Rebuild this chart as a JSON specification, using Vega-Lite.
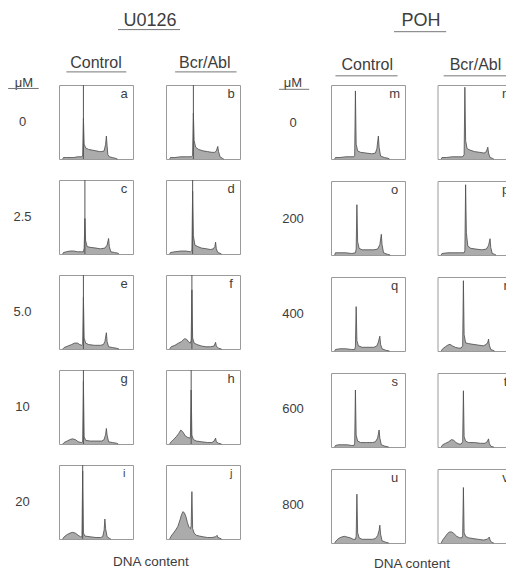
{
  "$schema": "https://vega.github.io/schema/vega-lite/v6.json",
  "padding": 0,
  "spacing": 29.5,
  "config": {
    "view": {"stroke": "#9a9a9a", "strokeWidth": 1},
    "text": {"font": "Liberation Sans", "color": "#3d3d3d"},
    "area": {"color": "#878787", "line": {"color": "#4a4a4a", "strokeWidth": 0.8}},
    "rule": {"color": "#555", "strokeWidth": 1},
    "concat": {"spacing": 0}
  },
  "datasets": {
    "u0126": [
      {"p":"a","c":5,"n":0},{"p":"a","c":6,"n":2},{"p":"a","c":10,"n":2},{"p":"a","c":15,"n":2},{"p":"a","c":20,"n":2},{"p":"a","c":25,"n":3},{"p":"a","c":30,"n":3},{"p":"a","c":32,"n":4},{"p":"a","c":33,"n":55},{"p":"a","c":34,"n":20},{"p":"a","c":36,"n":15},{"p":"a","c":40,"n":13},{"p":"a","c":45,"n":12},{"p":"a","c":50,"n":11},{"p":"a","c":55,"n":10},{"p":"a","c":58,"n":10},{"p":"a","c":61,"n":11},{"p":"a","c":63,"n":20},{"p":"a","c":64,"n":31},{"p":"a","c":65,"n":18},{"p":"a","c":66,"n":6},{"p":"a","c":68,"n":3},{"p":"a","c":72,"n":2},{"p":"a","c":76,"n":1},{"p":"a","c":79,"n":0},
      {"p":"b","c":5,"n":0},{"p":"b","c":6,"n":2},{"p":"b","c":12,"n":2},{"p":"b","c":20,"n":3},{"p":"b","c":28,"n":3},{"p":"b","c":34,"n":3},{"p":"b","c":36,"n":5},{"p":"b","c":37,"n":62},{"p":"b","c":38,"n":25},{"p":"b","c":40,"n":16},{"p":"b","c":44,"n":13},{"p":"b","c":50,"n":11},{"p":"b","c":56,"n":10},{"p":"b","c":62,"n":9},{"p":"b","c":66,"n":9},{"p":"b","c":68,"n":11},{"p":"b","c":70,"n":17},{"p":"b","c":71,"n":10},{"p":"b","c":73,"n":3},{"p":"b","c":76,"n":1},{"p":"b","c":78,"n":0},
      {"p":"c","c":5,"n":0},{"p":"c","c":6,"n":2},{"p":"c","c":10,"n":3},{"p":"c","c":15,"n":4},{"p":"c","c":20,"n":4},{"p":"c","c":25,"n":3},{"p":"c","c":30,"n":3},{"p":"c","c":33,"n":3},{"p":"c","c":34,"n":8},{"p":"c","c":35,"n":48},{"p":"c","c":36,"n":18},{"p":"c","c":38,"n":10},{"p":"c","c":42,"n":9},{"p":"c","c":50,"n":8},{"p":"c","c":56,"n":7},{"p":"c","c":62,"n":8},{"p":"c","c":65,"n":12},{"p":"c","c":67,"n":21},{"p":"c","c":68,"n":10},{"p":"c","c":70,"n":3},{"p":"c","c":75,"n":2},{"p":"c","c":80,"n":1},{"p":"c","c":81,"n":0},
      {"p":"d","c":5,"n":0},{"p":"d","c":6,"n":2},{"p":"d","c":12,"n":3},{"p":"d","c":20,"n":4},{"p":"d","c":27,"n":4},{"p":"d","c":33,"n":3},{"p":"d","c":35,"n":5},{"p":"d","c":36,"n":85},{"p":"d","c":37,"n":25},{"p":"d","c":39,"n":12},{"p":"d","c":43,"n":10},{"p":"d","c":48,"n":8},{"p":"d","c":55,"n":7},{"p":"d","c":60,"n":6},{"p":"d","c":64,"n":7},{"p":"d","c":66,"n":10},{"p":"d","c":67,"n":16},{"p":"d","c":68,"n":7},{"p":"d","c":70,"n":2},{"p":"d","c":73,"n":1},{"p":"d","c":75,"n":0},
      {"p":"e","c":5,"n":0},{"p":"e","c":7,"n":2},{"p":"e","c":12,"n":4},{"p":"e","c":17,"n":6},{"p":"e","c":21,"n":8},{"p":"e","c":25,"n":8},{"p":"e","c":28,"n":6},{"p":"e","c":31,"n":5},{"p":"e","c":32,"n":6},{"p":"e","c":33,"n":70},{"p":"e","c":34,"n":15},{"p":"e","c":36,"n":8},{"p":"e","c":40,"n":6},{"p":"e","c":48,"n":5},{"p":"e","c":56,"n":5},{"p":"e","c":60,"n":6},{"p":"e","c":62,"n":10},{"p":"e","c":64,"n":22},{"p":"e","c":65,"n":10},{"p":"e","c":67,"n":3},{"p":"e","c":72,"n":2},{"p":"e","c":78,"n":1},{"p":"e","c":81,"n":0},
      {"p":"f","c":5,"n":0},{"p":"f","c":7,"n":3},{"p":"f","c":12,"n":5},{"p":"f","c":17,"n":8},{"p":"f","c":21,"n":10},{"p":"f","c":25,"n":14},{"p":"f","c":28,"n":13},{"p":"f","c":31,"n":9},{"p":"f","c":33,"n":8},{"p":"f","c":34,"n":12},{"p":"f","c":35,"n":80},{"p":"f","c":36,"n":15},{"p":"f","c":38,"n":8},{"p":"f","c":42,"n":6},{"p":"f","c":48,"n":4},{"p":"f","c":54,"n":3},{"p":"f","c":60,"n":3},{"p":"f","c":65,"n":4},{"p":"f","c":67,"n":9},{"p":"f","c":68,"n":4},{"p":"f","c":71,"n":1},{"p":"f","c":75,"n":0},
      {"p":"g","c":5,"n":0},{"p":"g","c":7,"n":2},{"p":"g","c":11,"n":4},{"p":"g","c":15,"n":6},{"p":"g","c":18,"n":7},{"p":"g","c":22,"n":6},{"p":"g","c":26,"n":3},{"p":"g","c":30,"n":2},{"p":"g","c":32,"n":3},{"p":"g","c":33,"n":85},{"p":"g","c":34,"n":10},{"p":"g","c":36,"n":5},{"p":"g","c":42,"n":4},{"p":"g","c":50,"n":4},{"p":"g","c":58,"n":4},{"p":"g","c":61,"n":6},{"p":"g","c":63,"n":13},{"p":"g","c":64,"n":21},{"p":"g","c":65,"n":12},{"p":"g","c":67,"n":3},{"p":"g","c":72,"n":2},{"p":"g","c":78,"n":1},{"p":"g","c":80,"n":0},
      {"p":"h","c":5,"n":0},{"p":"h","c":7,"n":3},{"p":"h","c":10,"n":6},{"p":"h","c":14,"n":10},{"p":"h","c":17,"n":14},{"p":"h","c":20,"n":19},{"p":"h","c":23,"n":16},{"p":"h","c":26,"n":11},{"p":"h","c":29,"n":9},{"p":"h","c":32,"n":8},{"p":"h","c":33,"n":10},{"p":"h","c":34,"n":73},{"p":"h","c":35,"n":12},{"p":"h","c":37,"n":6},{"p":"h","c":41,"n":4},{"p":"h","c":48,"n":3},{"p":"h","c":56,"n":2},{"p":"h","c":62,"n":2},{"p":"h","c":65,"n":4},{"p":"h","c":67,"n":8},{"p":"h","c":68,"n":3},{"p":"h","c":71,"n":1},{"p":"h","c":75,"n":0},
      {"p":"i","c":5,"n":0},{"p":"i","c":7,"n":3},{"p":"i","c":11,"n":6},{"p":"i","c":15,"n":8},{"p":"i","c":18,"n":9},{"p":"i","c":22,"n":8},{"p":"i","c":26,"n":5},{"p":"i","c":29,"n":3},{"p":"i","c":31,"n":3},{"p":"i","c":32,"n":92},{"p":"i","c":33,"n":8},{"p":"i","c":35,"n":4},{"p":"i","c":42,"n":3},{"p":"i","c":50,"n":2},{"p":"i","c":56,"n":2},{"p":"i","c":59,"n":3},{"p":"i","c":61,"n":12},{"p":"i","c":62,"n":27},{"p":"i","c":63,"n":14},{"p":"i","c":65,"n":3},{"p":"i","c":68,"n":1},{"p":"i","c":70,"n":0},
      {"p":"j","c":5,"n":0},{"p":"j","c":7,"n":4},{"p":"j","c":10,"n":8},{"p":"j","c":13,"n":12},{"p":"j","c":16,"n":17},{"p":"j","c":19,"n":26},{"p":"j","c":21,"n":33},{"p":"j","c":23,"n":37},{"p":"j","c":25,"n":35},{"p":"j","c":27,"n":30},{"p":"j","c":29,"n":22},{"p":"j","c":31,"n":16},{"p":"j","c":33,"n":14},{"p":"j","c":34,"n":18},{"p":"j","c":35,"n":64},{"p":"j","c":36,"n":14},{"p":"j","c":38,"n":8},{"p":"j","c":41,"n":5},{"p":"j","c":45,"n":4},{"p":"j","c":50,"n":3},{"p":"j","c":56,"n":2},{"p":"j","c":62,"n":2},{"p":"j","c":67,"n":3},{"p":"j","c":69,"n":5},{"p":"j","c":70,"n":2},{"p":"j","c":73,"n":1},{"p":"j","c":75,"n":0},
      {"p":"a","mk":33},{"p":"b","mk":37},{"p":"c","mk":35},{"p":"d","mk":36},{"p":"e","mk":33},{"p":"f","mk":35},{"p":"g","mk":33},{"p":"h","mk":34},{"p":"i","mk":32}
    ],
    "poh": [
      {"p":"m","c":5,"n":0},{"p":"m","c":6,"n":2},{"p":"m","c":12,"n":2},{"p":"m","c":20,"n":3},{"p":"m","c":27,"n":3},{"p":"m","c":31,"n":3},{"p":"m","c":32,"n":5},{"p":"m","c":33,"n":92},{"p":"m","c":34,"n":20},{"p":"m","c":36,"n":11},{"p":"m","c":40,"n":9},{"p":"m","c":48,"n":8},{"p":"m","c":55,"n":7},{"p":"m","c":60,"n":8},{"p":"m","c":62,"n":14},{"p":"m","c":64,"n":31},{"p":"m","c":65,"n":16},{"p":"m","c":67,"n":4},{"p":"m","c":72,"n":2},{"p":"m","c":77,"n":1},{"p":"m","c":79,"n":0},
      {"p":"n","c":5,"n":0},{"p":"n","c":6,"n":2},{"p":"n","c":12,"n":2},{"p":"n","c":20,"n":3},{"p":"n","c":28,"n":3},{"p":"n","c":34,"n":3},{"p":"n","c":36,"n":6},{"p":"n","c":37,"n":97},{"p":"n","c":38,"n":25},{"p":"n","c":40,"n":14},{"p":"n","c":44,"n":12},{"p":"n","c":50,"n":10},{"p":"n","c":57,"n":9},{"p":"n","c":63,"n":8},{"p":"n","c":66,"n":10},{"p":"n","c":68,"n":16},{"p":"n","c":69,"n":8},{"p":"n","c":71,"n":2},{"p":"n","c":74,"n":1},{"p":"n","c":76,"n":0},
      {"p":"o","c":5,"n":0},{"p":"o","c":6,"n":3},{"p":"o","c":12,"n":3},{"p":"o","c":20,"n":3},{"p":"o","c":28,"n":2},{"p":"o","c":33,"n":3},{"p":"o","c":34,"n":8},{"p":"o","c":35,"n":68},{"p":"o","c":36,"n":18},{"p":"o","c":38,"n":9},{"p":"o","c":42,"n":7},{"p":"o","c":50,"n":7},{"p":"o","c":58,"n":7},{"p":"o","c":63,"n":8},{"p":"o","c":66,"n":14},{"p":"o","c":68,"n":28},{"p":"o","c":69,"n":14},{"p":"o","c":71,"n":3},{"p":"o","c":76,"n":1},{"p":"o","c":80,"n":0},
      {"p":"p","c":5,"n":0},{"p":"p","c":6,"n":2},{"p":"p","c":14,"n":3},{"p":"p","c":22,"n":3},{"p":"p","c":30,"n":3},{"p":"p","c":36,"n":3},{"p":"p","c":37,"n":6},{"p":"p","c":38,"n":95},{"p":"p","c":39,"n":30},{"p":"p","c":41,"n":12},{"p":"p","c":45,"n":9},{"p":"p","c":52,"n":8},{"p":"p","c":60,"n":7},{"p":"p","c":66,"n":8},{"p":"p","c":69,"n":13},{"p":"p","c":71,"n":22},{"p":"p","c":72,"n":10},{"p":"p","c":74,"n":2},{"p":"p","c":77,"n":1},{"p":"p","c":79,"n":0},
      {"p":"q","c":5,"n":0},{"p":"q","c":6,"n":2},{"p":"q","c":12,"n":3},{"p":"q","c":20,"n":3},{"p":"q","c":28,"n":2},{"p":"q","c":32,"n":2},{"p":"q","c":33,"n":6},{"p":"q","c":34,"n":60},{"p":"q","c":35,"n":14},{"p":"q","c":37,"n":7},{"p":"q","c":42,"n":5},{"p":"q","c":50,"n":5},{"p":"q","c":58,"n":5},{"p":"q","c":62,"n":7},{"p":"q","c":64,"n":12},{"p":"q","c":66,"n":20},{"p":"q","c":67,"n":9},{"p":"q","c":69,"n":3},{"p":"q","c":74,"n":1},{"p":"q","c":79,"n":0},
      {"p":"r","c":5,"n":0},{"p":"r","c":7,"n":3},{"p":"r","c":11,"n":6},{"p":"r","c":14,"n":8},{"p":"r","c":17,"n":9},{"p":"r","c":20,"n":7},{"p":"r","c":24,"n":5},{"p":"r","c":28,"n":4},{"p":"r","c":32,"n":4},{"p":"r","c":34,"n":7},{"p":"r","c":35,"n":95},{"p":"r","c":36,"n":22},{"p":"r","c":38,"n":11},{"p":"r","c":42,"n":10},{"p":"r","c":48,"n":9},{"p":"r","c":55,"n":8},{"p":"r","c":62,"n":7},{"p":"r","c":66,"n":9},{"p":"r","c":68,"n":12},{"p":"r","c":69,"n":16},{"p":"r","c":70,"n":8},{"p":"r","c":72,"n":2},{"p":"r","c":75,"n":1},{"p":"r","c":77,"n":0},
      {"p":"s","c":5,"n":0},{"p":"s","c":6,"n":2},{"p":"s","c":10,"n":3},{"p":"s","c":16,"n":3},{"p":"s","c":22,"n":3},{"p":"s","c":28,"n":2},{"p":"s","c":31,"n":2},{"p":"s","c":32,"n":5},{"p":"s","c":33,"n":77},{"p":"s","c":34,"n":16},{"p":"s","c":36,"n":8},{"p":"s","c":40,"n":6},{"p":"s","c":48,"n":6},{"p":"s","c":56,"n":6},{"p":"s","c":60,"n":7},{"p":"s","c":63,"n":12},{"p":"s","c":65,"n":23},{"p":"s","c":66,"n":12},{"p":"s","c":68,"n":3},{"p":"s","c":73,"n":1},{"p":"s","c":78,"n":0},
      {"p":"t","c":5,"n":0},{"p":"t","c":7,"n":3},{"p":"t","c":11,"n":5},{"p":"t","c":15,"n":7},{"p":"t","c":19,"n":10},{"p":"t","c":22,"n":9},{"p":"t","c":25,"n":6},{"p":"t","c":29,"n":4},{"p":"t","c":32,"n":4},{"p":"t","c":34,"n":7},{"p":"t","c":35,"n":76},{"p":"t","c":36,"n":14},{"p":"t","c":38,"n":8},{"p":"t","c":42,"n":6},{"p":"t","c":50,"n":6},{"p":"t","c":58,"n":5},{"p":"t","c":64,"n":5},{"p":"t","c":67,"n":7},{"p":"t","c":69,"n":11},{"p":"t","c":70,"n":5},{"p":"t","c":72,"n":1},{"p":"t","c":76,"n":0},
      {"p":"u","c":5,"n":0},{"p":"u","c":7,"n":3},{"p":"u","c":10,"n":6},{"p":"u","c":14,"n":8},{"p":"u","c":18,"n":9},{"p":"u","c":22,"n":8},{"p":"u","c":26,"n":7},{"p":"u","c":30,"n":5},{"p":"u","c":33,"n":5},{"p":"u","c":34,"n":9},{"p":"u","c":35,"n":66},{"p":"u","c":36,"n":14},{"p":"u","c":38,"n":7},{"p":"u","c":42,"n":5},{"p":"u","c":50,"n":5},{"p":"u","c":56,"n":5},{"p":"u","c":60,"n":6},{"p":"u","c":63,"n":10},{"p":"u","c":65,"n":17},{"p":"u","c":66,"n":24},{"p":"u","c":67,"n":12},{"p":"u","c":69,"n":3},{"p":"u","c":74,"n":1},{"p":"u","c":78,"n":0},
      {"p":"v","c":5,"n":0},{"p":"v","c":7,"n":4},{"p":"v","c":10,"n":8},{"p":"v","c":13,"n":12},{"p":"v","c":16,"n":15},{"p":"v","c":19,"n":15},{"p":"v","c":22,"n":13},{"p":"v","c":26,"n":9},{"p":"v","c":30,"n":7},{"p":"v","c":33,"n":7},{"p":"v","c":34,"n":10},{"p":"v","c":35,"n":75},{"p":"v","c":36,"n":14},{"p":"v","c":38,"n":9},{"p":"v","c":42,"n":7},{"p":"v","c":48,"n":6},{"p":"v","c":55,"n":5},{"p":"v","c":62,"n":4},{"p":"v","c":67,"n":5},{"p":"v","c":70,"n":8},{"p":"v","c":71,"n":4},{"p":"v","c":73,"n":1},{"p":"v","c":76,"n":0}
    ]
  },
  "hconcat": [
    {
      "spacing": 13,
      "hconcat": [
        {
          "spacing": 0,
          "vconcat": [
            {
              "width": 45, "height": 91, "view": {"stroke": null},
              "data": {"values": [{"t": "μM"}]},
              "layer": [
                {"mark": {"type": "text", "fontSize": 13, "baseline": "middle", "align": "center"},
                 "encoding": {"text": {"field": "t"},
                   "x": {"datum": 0.53, "type": "quantitative", "scale": {"domain": [0, 1]}, "axis": null},
                   "y": {"datum": 0.0934, "type": "quantitative", "scale": {"domain": [0, 1]}, "axis": null}}},
                {"mark": {"type": "rule", "color": "#777"},
                 "encoding": {"x": {"datum": 0.18}, "x2": {"datum": 0.86}, "y": {"datum": 0.0275}}}
              ]
            },
            {
              "width": 45, "height": 442, "view": {"stroke": null},
              "data": {"values": [{"d": "0"}, {"d": "2.5"}, {"d": "5.0"}, {"d": "10"}, {"d": "20"}]},
              "mark": {"type": "text", "fontSize": 13, "baseline": "middle", "align": "center"},
              "encoding": {
                "text": {"field": "d"},
                "x": {"datum": 0.5, "type": "quantitative", "scale": {"domain": [0, 1]}, "axis": null},
                "y": {"field": "d", "type": "ordinal", "sort": null, "scale": {"type": "point", "padding": 0.3263}, "axis": null}
              }
            }
          ]
        },
        {
          "spacing": 0,
          "vconcat": [
            {
              "width": 182, "height": 40, "view": {"stroke": null},
              "data": {"values": [{"t": "U0126"}]},
              "layer": [
                {"mark": {"type": "text", "fontSize": 18, "baseline": "middle", "align": "center"},
                 "encoding": {"text": {"field": "t"},
                   "x": {"datum": 0.5, "type": "quantitative", "scale": {"domain": [0, 1]}, "axis": null},
                   "y": {"datum": 0.475, "type": "quantitative", "scale": {"domain": [0, 1]}, "axis": null}}},
                {"mark": {"type": "rule", "color": "#777"},
                 "encoding": {"x": {"datum": 0.324}, "x2": {"datum": 0.665}, "y": {"datum": 0.26}}}
              ]
            },
            {
              "spacing": 34,
              "hconcat": [
                {
                  "width": 74, "height": 44, "view": {"stroke": null},
                  "data": {"values": [{"t": "Control"}]},
                  "layer": [
                    {"mark": {"type": "text", "fontSize": 16, "baseline": "middle", "align": "center"},
                     "encoding": {"text": {"field": "t"},
                       "x": {"datum": 0.5, "type": "quantitative", "scale": {"domain": [0, 1]}, "axis": null},
                       "y": {"datum": 0.48, "type": "quantitative", "scale": {"domain": [0, 1]}, "axis": null}}},
                    {"mark": {"type": "rule", "color": "#777"},
                     "encoding": {"x": {"datum": 0.1}, "x2": {"datum": 0.91}, "y": {"datum": 0.275}}}
                  ]
                },
                {
                  "width": 74, "height": 44, "view": {"stroke": null},
                  "data": {"values": [{"t": "Bcr/Abl"}]},
                  "layer": [
                    {"mark": {"type": "text", "fontSize": 16, "baseline": "middle", "align": "center"},
                     "encoding": {"text": {"field": "t"},
                       "x": {"datum": 0.51, "type": "quantitative", "scale": {"domain": [0, 1]}, "axis": null},
                       "y": {"datum": 0.48, "type": "quantitative", "scale": {"domain": [0, 1]}, "axis": null}}},
                    {"mark": {"type": "rule", "color": "#777"},
                     "encoding": {"x": {"datum": 0.11}, "x2": {"datum": 0.94}, "y": {"datum": 0.275}}}
                  ]
                }
              ]
            },
            {
              "columns": 2,
              "spacing": {"row": 17, "column": 31},
              "concat": [
                {"data": {"name": "u0126"}, "transform": [{"filter": "datum.p === 'a'"}], "width": 74, "height": 74, "layer": [
                  {"transform": [{"filter": "isValid(datum.n)"}], "mark": "area", "encoding": {"x": {"field": "c", "type": "quantitative", "scale": {"domain": [0, 100]}, "axis": null}, "y": {"field": "n", "type": "quantitative", "scale": {"domain": [0, 100]}, "axis": null}}},
                  {"transform": [{"filter": "isValid(datum.mk)"}], "mark": "rule", "encoding": {"x": {"field": "mk", "type": "quantitative"}}},
                  {"transform": [{"aggregate": [{"op": "count", "as": "k"}], "groupby": ["p"]}], "mark": {"type": "text", "fontSize": 13, "baseline": "middle", "align": "center"}, "encoding": {"text": {"field": "p"}, "x": {"datum": 88}, "y": {"datum": 88}}}]},
                {"data": {"name": "u0126"}, "transform": [{"filter": "datum.p === 'b'"}], "width": 74, "height": 74, "layer": [
                  {"transform": [{"filter": "isValid(datum.n)"}], "mark": "area", "encoding": {"x": {"field": "c", "type": "quantitative", "scale": {"domain": [0, 100]}, "axis": null}, "y": {"field": "n", "type": "quantitative", "scale": {"domain": [0, 100]}, "axis": null}}},
                  {"transform": [{"filter": "isValid(datum.mk)"}], "mark": "rule", "encoding": {"x": {"field": "mk", "type": "quantitative"}}},
                  {"transform": [{"aggregate": [{"op": "count", "as": "k"}], "groupby": ["p"]}], "mark": {"type": "text", "fontSize": 13, "baseline": "middle", "align": "center"}, "encoding": {"text": {"field": "p"}, "x": {"datum": 88}, "y": {"datum": 88}}}]},
                {"data": {"name": "u0126"}, "transform": [{"filter": "datum.p === 'c'"}], "width": 74, "height": 74, "layer": [
                  {"transform": [{"filter": "isValid(datum.n)"}], "mark": "area", "encoding": {"x": {"field": "c", "type": "quantitative", "scale": {"domain": [0, 100]}, "axis": null}, "y": {"field": "n", "type": "quantitative", "scale": {"domain": [0, 100]}, "axis": null}}},
                  {"transform": [{"filter": "isValid(datum.mk)"}], "mark": "rule", "encoding": {"x": {"field": "mk", "type": "quantitative"}}},
                  {"transform": [{"aggregate": [{"op": "count", "as": "k"}], "groupby": ["p"]}], "mark": {"type": "text", "fontSize": 13, "baseline": "middle", "align": "center"}, "encoding": {"text": {"field": "p"}, "x": {"datum": 88}, "y": {"datum": 88}}}]},
                {"data": {"name": "u0126"}, "transform": [{"filter": "datum.p === 'd'"}], "width": 74, "height": 74, "layer": [
                  {"transform": [{"filter": "isValid(datum.n)"}], "mark": "area", "encoding": {"x": {"field": "c", "type": "quantitative", "scale": {"domain": [0, 100]}, "axis": null}, "y": {"field": "n", "type": "quantitative", "scale": {"domain": [0, 100]}, "axis": null}}},
                  {"transform": [{"filter": "isValid(datum.mk)"}], "mark": "rule", "encoding": {"x": {"field": "mk", "type": "quantitative"}}},
                  {"transform": [{"aggregate": [{"op": "count", "as": "k"}], "groupby": ["p"]}], "mark": {"type": "text", "fontSize": 13, "baseline": "middle", "align": "center"}, "encoding": {"text": {"field": "p"}, "x": {"datum": 88}, "y": {"datum": 88}}}]},
                {"data": {"name": "u0126"}, "transform": [{"filter": "datum.p === 'e'"}], "width": 74, "height": 74, "layer": [
                  {"transform": [{"filter": "isValid(datum.n)"}], "mark": "area", "encoding": {"x": {"field": "c", "type": "quantitative", "scale": {"domain": [0, 100]}, "axis": null}, "y": {"field": "n", "type": "quantitative", "scale": {"domain": [0, 100]}, "axis": null}}},
                  {"transform": [{"filter": "isValid(datum.mk)"}], "mark": "rule", "encoding": {"x": {"field": "mk", "type": "quantitative"}}},
                  {"transform": [{"aggregate": [{"op": "count", "as": "k"}], "groupby": ["p"]}], "mark": {"type": "text", "fontSize": 13, "baseline": "middle", "align": "center"}, "encoding": {"text": {"field": "p"}, "x": {"datum": 88}, "y": {"datum": 88}}}]},
                {"data": {"name": "u0126"}, "transform": [{"filter": "datum.p === 'f'"}], "width": 74, "height": 74, "layer": [
                  {"transform": [{"filter": "isValid(datum.n)"}], "mark": "area", "encoding": {"x": {"field": "c", "type": "quantitative", "scale": {"domain": [0, 100]}, "axis": null}, "y": {"field": "n", "type": "quantitative", "scale": {"domain": [0, 100]}, "axis": null}}},
                  {"transform": [{"filter": "isValid(datum.mk)"}], "mark": "rule", "encoding": {"x": {"field": "mk", "type": "quantitative"}}},
                  {"transform": [{"aggregate": [{"op": "count", "as": "k"}], "groupby": ["p"]}], "mark": {"type": "text", "fontSize": 13, "baseline": "middle", "align": "center"}, "encoding": {"text": {"field": "p"}, "x": {"datum": 88}, "y": {"datum": 88}}}]},
                {"data": {"name": "u0126"}, "transform": [{"filter": "datum.p === 'g'"}], "width": 74, "height": 74, "layer": [
                  {"transform": [{"filter": "isValid(datum.n)"}], "mark": "area", "encoding": {"x": {"field": "c", "type": "quantitative", "scale": {"domain": [0, 100]}, "axis": null}, "y": {"field": "n", "type": "quantitative", "scale": {"domain": [0, 100]}, "axis": null}}},
                  {"transform": [{"filter": "isValid(datum.mk)"}], "mark": "rule", "encoding": {"x": {"field": "mk", "type": "quantitative"}}},
                  {"transform": [{"aggregate": [{"op": "count", "as": "k"}], "groupby": ["p"]}], "mark": {"type": "text", "fontSize": 13, "baseline": "middle", "align": "center"}, "encoding": {"text": {"field": "p"}, "x": {"datum": 88}, "y": {"datum": 88}}}]},
                {"data": {"name": "u0126"}, "transform": [{"filter": "datum.p === 'h'"}], "width": 74, "height": 74, "layer": [
                  {"transform": [{"filter": "isValid(datum.n)"}], "mark": "area", "encoding": {"x": {"field": "c", "type": "quantitative", "scale": {"domain": [0, 100]}, "axis": null}, "y": {"field": "n", "type": "quantitative", "scale": {"domain": [0, 100]}, "axis": null}}},
                  {"transform": [{"filter": "isValid(datum.mk)"}], "mark": "rule", "encoding": {"x": {"field": "mk", "type": "quantitative"}}},
                  {"transform": [{"aggregate": [{"op": "count", "as": "k"}], "groupby": ["p"]}], "mark": {"type": "text", "fontSize": 13, "baseline": "middle", "align": "center"}, "encoding": {"text": {"field": "p"}, "x": {"datum": 88}, "y": {"datum": 88}}}]},
                {"data": {"name": "u0126"}, "transform": [{"filter": "datum.p === 'i'"}], "width": 74, "height": 74, "layer": [
                  {"transform": [{"filter": "isValid(datum.n)"}], "mark": "area", "encoding": {"x": {"field": "c", "type": "quantitative", "scale": {"domain": [0, 100]}, "axis": null}, "y": {"field": "n", "type": "quantitative", "scale": {"domain": [0, 100]}, "axis": null}}},
                  {"transform": [{"filter": "isValid(datum.mk)"}], "mark": "rule", "encoding": {"x": {"field": "mk", "type": "quantitative"}}},
                  {"transform": [{"aggregate": [{"op": "count", "as": "k"}], "groupby": ["p"]}], "mark": {"type": "text", "fontSize": 11, "baseline": "middle", "align": "center"}, "encoding": {"text": {"field": "p"}, "x": {"datum": 88}, "y": {"datum": 88}}}]},
                {"data": {"name": "u0126"}, "transform": [{"filter": "datum.p === 'j'"}], "width": 74, "height": 74, "layer": [
                  {"transform": [{"filter": "isValid(datum.n)"}], "mark": "area", "encoding": {"x": {"field": "c", "type": "quantitative", "scale": {"domain": [0, 100]}, "axis": null}, "y": {"field": "n", "type": "quantitative", "scale": {"domain": [0, 100]}, "axis": null}}},
                  {"transform": [{"aggregate": [{"op": "count", "as": "k"}], "groupby": ["p"]}], "mark": {"type": "text", "fontSize": 11, "baseline": "middle", "align": "center"}, "encoding": {"text": {"field": "p"}, "x": {"datum": 88}, "y": {"datum": 88}}}]}
              ]
            },
            {
              "width": 182, "height": 30, "view": {"stroke": null},
              "data": {"values": [{"t": "DNA content"}]},
              "mark": {"type": "text", "fontSize": 13.5, "baseline": "middle", "align": "center"},
              "encoding": {"text": {"field": "t"},
                "x": {"datum": 0.505, "type": "quantitative", "scale": {"domain": [0, 1]}, "axis": null},
                "y": {"datum": 0.317, "type": "quantitative", "scale": {"domain": [0, 1]}, "axis": null}}
            }
          ]
        }
      ]
    },
    {
      "spacing": 14.5,
      "hconcat": [
        {
          "spacing": 0,
          "vconcat": [
            {
              "width": 45, "height": 91, "view": {"stroke": null},
              "data": {"values": [{"t": "μM"}]},
              "layer": [
                {"mark": {"type": "text", "fontSize": 13, "baseline": "middle", "align": "center"},
                 "encoding": {"text": {"field": "t"},
                   "x": {"datum": 0.5, "type": "quantitative", "scale": {"domain": [0, 1]}, "axis": null},
                   "y": {"datum": 0.0934, "type": "quantitative", "scale": {"domain": [0, 1]}, "axis": null}}},
                {"mark": {"type": "rule", "color": "#777"},
                 "encoding": {"x": {"datum": 0.19}, "x2": {"datum": 0.86}, "y": {"datum": 0.0187}}}
              ]
            },
            {
              "width": 45, "height": 446, "view": {"stroke": null},
              "data": {"values": [{"d": "0"}, {"d": "200"}, {"d": "400"}, {"d": "600"}, {"d": "800"}]},
              "mark": {"type": "text", "fontSize": 13, "baseline": "middle", "align": "center"},
              "encoding": {
                "text": {"field": "d"},
                "x": {"datum": 0.5, "type": "quantitative", "scale": {"domain": [0, 1]}, "axis": null},
                "y": {"field": "d", "type": "ordinal", "sort": null, "scale": {"type": "point", "padding": 0.3351}, "axis": null}
              }
            }
          ]
        },
        {
          "spacing": 0,
          "vconcat": [
            {
              "width": 180, "height": 41, "view": {"stroke": null},
              "data": {"values": [{"t": "POH"}]},
              "layer": [
                {"mark": {"type": "text", "fontSize": 18, "baseline": "middle", "align": "center"},
                 "encoding": {"text": {"field": "t"},
                   "x": {"datum": 0.5, "type": "quantitative", "scale": {"domain": [0, 1]}, "axis": null},
                   "y": {"datum": 0.476, "type": "quantitative", "scale": {"domain": [0, 1]}, "axis": null}}},
                {"mark": {"type": "rule", "color": "#777"},
                 "encoding": {"x": {"datum": 0.35}, "x2": {"datum": 0.64}, "y": {"datum": 0.227}}}
              ]
            },
            {
              "spacing": 32,
              "hconcat": [
                {
                  "width": 74, "height": 43, "view": {"stroke": null},
                  "data": {"values": [{"t": "Control"}]},
                  "layer": [
                    {"mark": {"type": "text", "fontSize": 16, "baseline": "middle", "align": "center"},
                     "encoding": {"text": {"field": "t"},
                       "x": {"datum": 0.49, "type": "quantitative", "scale": {"domain": [0, 1]}, "axis": null},
                       "y": {"datum": 0.44, "type": "quantitative", "scale": {"domain": [0, 1]}, "axis": null}}},
                    {"mark": {"type": "rule", "color": "#777"},
                     "encoding": {"x": {"datum": 0.06}, "x2": {"datum": 0.9}, "y": {"datum": 0.19}}}
                  ]
                },
                {
                  "width": 74, "height": 43, "view": {"stroke": null},
                  "data": {"values": [{"t": "Bcr/Abl"}]},
                  "layer": [
                    {"mark": {"type": "text", "fontSize": 16, "baseline": "middle", "align": "center"},
                     "encoding": {"text": {"field": "t"},
                       "x": {"datum": 0.52, "type": "quantitative", "scale": {"domain": [0, 1]}, "axis": null},
                       "y": {"datum": 0.44, "type": "quantitative", "scale": {"domain": [0, 1]}, "axis": null}}},
                    {"mark": {"type": "rule", "color": "#777"},
                     "encoding": {"x": {"datum": 0.09}, "x2": {"datum": 0.97}, "y": {"datum": 0.19}}}
                  ]
                }
              ]
            },
            {
              "columns": 2,
              "spacing": {"row": 18, "column": 30.5},
              "concat": [
                {"data": {"name": "poh"}, "transform": [{"filter": "datum.p === 'm'"}], "width": 74, "height": 74, "layer": [
                  {"mark": "area", "encoding": {"x": {"field": "c", "type": "quantitative", "scale": {"domain": [0, 100]}, "axis": null}, "y": {"field": "n", "type": "quantitative", "scale": {"domain": [0, 100]}, "axis": null}}},
                  {"transform": [{"aggregate": [{"op": "count", "as": "k"}], "groupby": ["p"]}], "mark": {"type": "text", "fontSize": 13, "baseline": "middle", "align": "center"}, "encoding": {"text": {"field": "p"}, "x": {"datum": 86}, "y": {"datum": 88}}}]},
                {"data": {"name": "poh"}, "transform": [{"filter": "datum.p === 'n'"}], "width": 74, "height": 74, "layer": [
                  {"mark": "area", "encoding": {"x": {"field": "c", "type": "quantitative", "scale": {"domain": [0, 100]}, "axis": null}, "y": {"field": "n", "type": "quantitative", "scale": {"domain": [0, 100]}, "axis": null}}},
                  {"transform": [{"aggregate": [{"op": "count", "as": "k"}], "groupby": ["p"]}], "mark": {"type": "text", "fontSize": 13, "baseline": "middle", "align": "center"}, "encoding": {"text": {"field": "p"}, "x": {"datum": 92}, "y": {"datum": 88}}}]},
                {"data": {"name": "poh"}, "transform": [{"filter": "datum.p === 'o'"}], "width": 74, "height": 74, "layer": [
                  {"mark": "area", "encoding": {"x": {"field": "c", "type": "quantitative", "scale": {"domain": [0, 100]}, "axis": null}, "y": {"field": "n", "type": "quantitative", "scale": {"domain": [0, 100]}, "axis": null}}},
                  {"transform": [{"aggregate": [{"op": "count", "as": "k"}], "groupby": ["p"]}], "mark": {"type": "text", "fontSize": 13, "baseline": "middle", "align": "center"}, "encoding": {"text": {"field": "p"}, "x": {"datum": 86}, "y": {"datum": 88}}}]},
                {"data": {"name": "poh"}, "transform": [{"filter": "datum.p === 'p'"}], "width": 74, "height": 74, "layer": [
                  {"mark": "area", "encoding": {"x": {"field": "c", "type": "quantitative", "scale": {"domain": [0, 100]}, "axis": null}, "y": {"field": "n", "type": "quantitative", "scale": {"domain": [0, 100]}, "axis": null}}},
                  {"transform": [{"aggregate": [{"op": "count", "as": "k"}], "groupby": ["p"]}], "mark": {"type": "text", "fontSize": 13, "baseline": "middle", "align": "center"}, "encoding": {"text": {"field": "p"}, "x": {"datum": 92}, "y": {"datum": 88}}}]},
                {"data": {"name": "poh"}, "transform": [{"filter": "datum.p === 'q'"}], "width": 74, "height": 74, "layer": [
                  {"mark": "area", "encoding": {"x": {"field": "c", "type": "quantitative", "scale": {"domain": [0, 100]}, "axis": null}, "y": {"field": "n", "type": "quantitative", "scale": {"domain": [0, 100]}, "axis": null}}},
                  {"transform": [{"aggregate": [{"op": "count", "as": "k"}], "groupby": ["p"]}], "mark": {"type": "text", "fontSize": 13, "baseline": "middle", "align": "center"}, "encoding": {"text": {"field": "p"}, "x": {"datum": 86}, "y": {"datum": 88}}}]},
                {"data": {"name": "poh"}, "transform": [{"filter": "datum.p === 'r'"}], "width": 74, "height": 74, "layer": [
                  {"mark": "area", "encoding": {"x": {"field": "c", "type": "quantitative", "scale": {"domain": [0, 100]}, "axis": null}, "y": {"field": "n", "type": "quantitative", "scale": {"domain": [0, 100]}, "axis": null}}},
                  {"transform": [{"aggregate": [{"op": "count", "as": "k"}], "groupby": ["p"]}], "mark": {"type": "text", "fontSize": 13, "baseline": "middle", "align": "center"}, "encoding": {"text": {"field": "p"}, "x": {"datum": 92}, "y": {"datum": 88}}}]},
                {"data": {"name": "poh"}, "transform": [{"filter": "datum.p === 's'"}], "width": 74, "height": 74, "layer": [
                  {"mark": "area", "encoding": {"x": {"field": "c", "type": "quantitative", "scale": {"domain": [0, 100]}, "axis": null}, "y": {"field": "n", "type": "quantitative", "scale": {"domain": [0, 100]}, "axis": null}}},
                  {"transform": [{"aggregate": [{"op": "count", "as": "k"}], "groupby": ["p"]}], "mark": {"type": "text", "fontSize": 13, "baseline": "middle", "align": "center"}, "encoding": {"text": {"field": "p"}, "x": {"datum": 86}, "y": {"datum": 88}}}]},
                {"data": {"name": "poh"}, "transform": [{"filter": "datum.p === 't'"}], "width": 74, "height": 74, "layer": [
                  {"mark": "area", "encoding": {"x": {"field": "c", "type": "quantitative", "scale": {"domain": [0, 100]}, "axis": null}, "y": {"field": "n", "type": "quantitative", "scale": {"domain": [0, 100]}, "axis": null}}},
                  {"transform": [{"aggregate": [{"op": "count", "as": "k"}], "groupby": ["p"]}], "mark": {"type": "text", "fontSize": 13, "baseline": "middle", "align": "center"}, "encoding": {"text": {"field": "p"}, "x": {"datum": 92}, "y": {"datum": 88}}}]},
                {"data": {"name": "poh"}, "transform": [{"filter": "datum.p === 'u'"}], "width": 74, "height": 74, "layer": [
                  {"mark": "area", "encoding": {"x": {"field": "c", "type": "quantitative", "scale": {"domain": [0, 100]}, "axis": null}, "y": {"field": "n", "type": "quantitative", "scale": {"domain": [0, 100]}, "axis": null}}},
                  {"transform": [{"aggregate": [{"op": "count", "as": "k"}], "groupby": ["p"]}], "mark": {"type": "text", "fontSize": 13, "baseline": "middle", "align": "center"}, "encoding": {"text": {"field": "p"}, "x": {"datum": 86}, "y": {"datum": 88}}}]},
                {"data": {"name": "poh"}, "transform": [{"filter": "datum.p === 'v'"}], "width": 74, "height": 74, "layer": [
                  {"mark": "area", "encoding": {"x": {"field": "c", "type": "quantitative", "scale": {"domain": [0, 100]}, "axis": null}, "y": {"field": "n", "type": "quantitative", "scale": {"domain": [0, 100]}, "axis": null}}},
                  {"transform": [{"aggregate": [{"op": "count", "as": "k"}], "groupby": ["p"]}], "mark": {"type": "text", "fontSize": 13, "baseline": "middle", "align": "center"}, "encoding": {"text": {"field": "p"}, "x": {"datum": 92}, "y": {"datum": 88}}}]}
              ]
            },
            {
              "width": 180, "height": 26, "view": {"stroke": null},
              "data": {"values": [{"t": "DNA content"}]},
              "mark": {"type": "text", "fontSize": 13.5, "baseline": "middle", "align": "center"},
              "encoding": {"text": {"field": "t"},
                "x": {"datum": 0.45, "type": "quantitative", "scale": {"domain": [0, 1]}, "axis": null},
                "y": {"datum": 0.3, "type": "quantitative", "scale": {"domain": [0, 1]}, "axis": null}}
            }
          ]
        }
      ]
    }
  ]
}
